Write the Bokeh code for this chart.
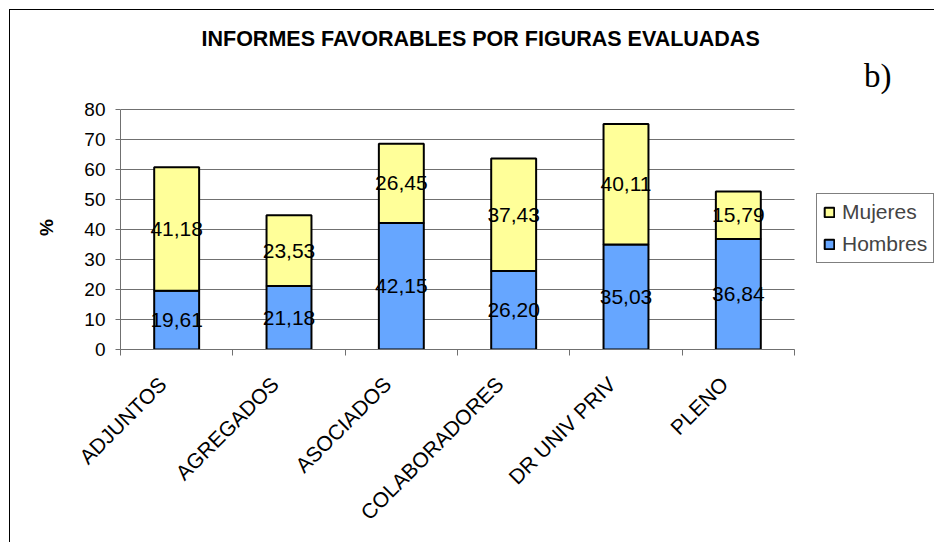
import math
from bokeh.plotting import figure
from bokeh.models import ColumnDataSource, FixedTicker, Label, Legend, LegendItem, Range1d
from bokeh.core.properties import value
from bokeh.embed import file_html
from bokeh.resources import INLINE

categories = ["ADJUNTOS", "AGREGADOS", "ASOCIADOS", "COLABORADORES", "DR UNIV PRIV", "PLENO"]
hombres = [19.61, 21.18, 42.15, 26.20, 35.03, 36.84]
mujeres = [41.18, 23.53, 26.45, 37.43, 40.11, 15.79]
y_ticks = [0, 10, 20, 30, 40, 50, 60, 70, 80]
series_names = ["Hombres", "Mujeres"]
title_text = "INFORMES FAVORABLES POR FIGURAS EVALUADAS"
panel_tag = "b)"
y_title = "%"

FONT = "Liberation Sans"
BLUE = "#66A6FF"
YELLOW = "#FFFF99"
GRID = "#707070"

n = len(categories)
xs = [i + 0.5 for i in range(n)]
label_pos = [i + 0.375 for i in range(n)]   # rotated labels sit left of the centre

# The categories use 674 px of width and the 0..80 scale 240 px of height; the
# frame extends further (815 x 339 px) so that the legend, the title and the
# panel tag can be drawn inside it.
x_end = n * 815 / 674
y_end = y_ticks[-1] * 339 / 240


def fmt(v):
    return f"{v:.2f}".replace(".", ",")


source = ColumnDataSource(dict(
    x=xs,
    hombres=hombres,
    mujeres=mujeres,
    h_label=[fmt(v) for v in hombres],
    m_label=[fmt(v) for v in mujeres],
    h_mid=[h / 2 for h in hombres],
    m_mid=[h + m / 2 for h, m in zip(hombres, mujeres)],
))

p = figure(width=925, height=533, output_backend="svg", toolbar_location=None,
           x_range=Range1d(0, x_end), y_range=Range1d(0, y_end),
           min_border_left=110, min_border_right=0, min_border_top=0,
           min_border_bottom=194)
p.title = None
p.outline_line_color = None
p.background_fill_color = "white"
p.border_fill_color = "white"
p.styles = {"margin-left": "9px", "margin-top": "9px",
            "border-left": "1px solid black", "border-top": "1px solid black"}

# horizontal grid lines limited to the category area
p.segment(x0=0, x1=n, y0=y_ticks, y1=y_ticks, line_color=GRID, line_width=1)

rs = p.vbar_stack(["hombres", "mujeres"], x="x", width=0.4, source=source,
                  fill_color=[BLUE, YELLOW], line_color="black", line_width=2)

for ycol, tcol in (("h_mid", "h_label"), ("m_mid", "m_label")):
    p.text(x="x", y=ycol, text=tcol, source=source, text_font=value(FONT),
           text_font_size="21px", text_align="center", text_baseline="middle",
           text_color="black")

# x axis: labels carried by (invisible) major ticks, boundaries by minor ticks
p.xaxis.bounds = (0, n)
p.xaxis.ticker = FixedTicker(ticks=label_pos, minor_ticks=list(range(n + 1)))
p.xaxis.major_label_overrides = {x: c for x, c in zip(label_pos, categories)}
p.xaxis.major_label_orientation = math.pi / 4
p.xaxis.major_tick_line_color = None
p.xaxis.major_tick_in = 0
p.xaxis.major_tick_out = 6
p.xaxis.minor_tick_line_color = GRID
p.xaxis.minor_tick_in = 0
p.xaxis.minor_tick_out = 6
p.xaxis.axis_line_color = GRID
p.xaxis.major_label_text_font = FONT
p.xaxis.major_label_text_font_size = "21px"
p.xaxis.major_label_text_color = "black"
p.xaxis.major_label_standoff = 25

# y axis (the axis title is centred on the frame; trailing no-break spaces
# move the visible "%" down to the middle of the 0..80 scale)
p.yaxis.bounds = (y_ticks[0], y_ticks[-1])
p.yaxis.ticker = FixedTicker(ticks=y_ticks)
p.yaxis.axis_line_color = GRID
p.yaxis.major_tick_line_color = GRID
p.yaxis.major_tick_in = 0
p.yaxis.major_tick_out = 5
p.yaxis.minor_tick_line_color = None
p.yaxis.major_label_text_font = FONT
p.yaxis.major_label_text_font_size = "19px"
p.yaxis.major_label_text_color = "black"
p.yaxis.major_label_standoff = 10
p.yaxis.axis_label = y_title + "\u00a0" * 18
p.yaxis.axis_label_text_font = FONT
p.yaxis.axis_label_text_font_size = "19px"
p.yaxis.axis_label_text_font_style = "bold"
p.yaxis.axis_label_text_color = "black"
p.yaxis.axis_label_standoff = 24

p.grid.visible = False

legend = Legend(items=[LegendItem(label=series_names[1], renderers=[rs[1]]),
                       LegendItem(label=series_names[0], renderers=[rs[0]])],
                location=(696, 86), border_line_color="black", border_line_width=1,
                label_text_font=FONT, label_text_font_size="21px",
                glyph_width=12, glyph_height=12, padding=6, spacing=8,
                label_standoff=7, label_height=24, margin=0,
                background_fill_color="white", background_fill_alpha=1.0)
p.add_layout(legend)

p.add_layout(Label(x=81, y=311, x_units="screen", y_units="screen", text=title_text,
                   text_font=FONT, text_font_size="21.5px", text_font_style="bold",
                   text_align="left", text_baseline="alphabetic", text_color="black"))
p.add_layout(Label(x=771, y=274, x_units="screen", y_units="screen", text=panel_tag,
                   text_font="Liberation Serif", text_font_size="33px",
                   text_align="right", text_baseline="alphabetic", text_color="black"))

open("out.html", "w").write(file_html(p, INLINE))
